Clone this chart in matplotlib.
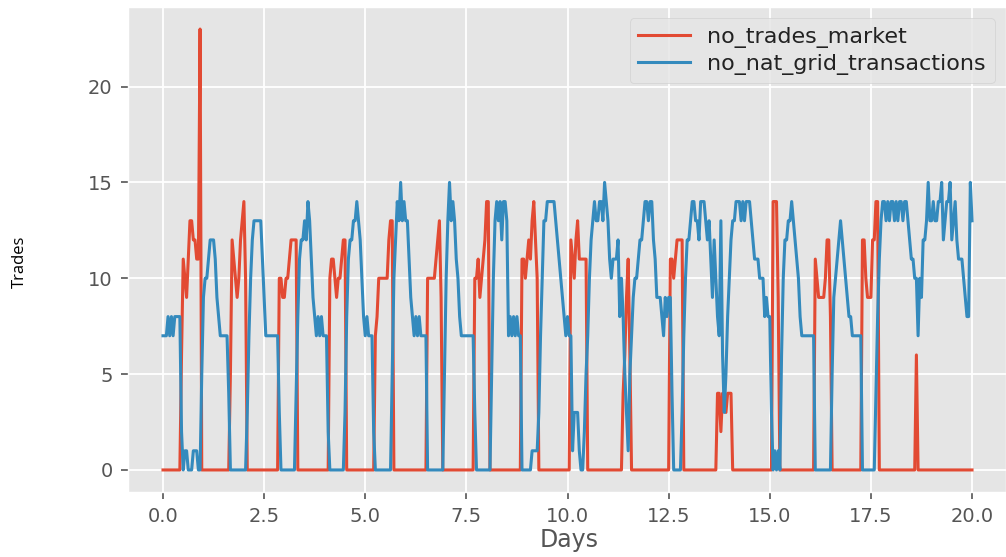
import matplotlib
matplotlib.use('Agg')
import matplotlib.pyplot as plt
import numpy as np

# hourly samples, one row per day (24 values), plus the final point at day 20
no_trades_market = [
    0, 0, 0, 0, 0, 0, 0, 0, 0, 0, 0, 6, 11, 10, 9, 11, 13, 13, 12, 12, 11, 11, 23, 0,
    0, 0, 0, 0, 0, 0, 0, 0, 0, 0, 0, 0, 0, 0, 0, 0, 5, 12, 11, 10, 9, 10, 12, 13,
    14, 10, 0, 0, 0, 0, 0, 0, 0, 0, 0, 0, 0, 0, 0, 0, 0, 0, 0, 0, 0, 10, 10, 9,
    9, 10, 10, 11, 12, 12, 12, 12, 0, 0, 0, 0, 0, 0, 0, 0, 0, 0, 0, 0, 0, 0, 0, 0,
    0, 0, 0, 10, 11, 11, 10, 9, 10, 10, 11, 12, 12, 0, 0, 0, 0, 0, 0, 0, 0, 0, 0, 0,
    0, 0, 0, 0, 0, 0, 7, 8, 10, 10, 10, 10, 10, 10, 12, 13, 13, 0, 0, 0, 0, 0, 0, 0,
    0, 0, 0, 0, 0, 0, 0, 0, 0, 0, 0, 0, 0, 10, 10, 10, 10, 10, 11, 12, 13, 9, 0, 0,
    0, 0, 0, 0, 0, 0, 0, 0, 0, 0, 0, 0, 0, 0, 0, 0, 0, 10, 10, 11, 9, 10, 11, 12,
    14, 14, 0, 0, 0, 0, 0, 0, 0, 0, 0, 0, 0, 0, 0, 0, 0, 0, 0, 0, 0, 11, 11, 10,
    11, 12, 11, 13, 14, 12, 10, 0, 0, 0, 0, 0, 0, 0, 0, 0, 0, 0, 0, 0, 0, 0, 0, 0,
    0, 0, 12, 11, 10, 12, 13, 11, 11, 11, 11, 11, 0, 0, 0, 0, 0, 0, 0, 0, 0, 0, 0, 0,
    0, 0, 0, 0, 0, 0, 0, 0, 0, 4, 6, 9, 11, 6, 0, 0, 0, 0, 0, 0, 0, 0, 0, 0,
    0, 0, 0, 0, 0, 0, 0, 0, 0, 0, 0, 0, 0, 11, 11, 10, 11, 12, 12, 12, 12, 0, 0, 0,
    0, 0, 0, 0, 0, 0, 0, 0, 0, 0, 0, 0, 0, 0, 0, 0, 0, 4, 4, 2, 4, 4, 3, 4,
    4, 4, 0, 0, 0, 0, 0, 0, 0, 0, 0, 0, 0, 0, 0, 0, 0, 0, 0, 0, 0, 0, 0, 0,
    0, 0, 14, 14, 14, 9, 0, 0, 0, 0, 0, 0, 0, 0, 0, 0, 0, 0, 0, 0, 0, 0, 0, 0,
    0, 0, 0, 11, 10, 9, 9, 9, 9, 10, 12, 12, 8, 0, 0, 0, 0, 0, 0, 0, 0, 0, 0, 0,
    0, 0, 0, 0, 0, 0, 0, 12, 12, 10, 9, 9, 9, 12, 12, 14, 14, 0, 0, 0, 0, 0, 0, 0,
    0, 0, 0, 0, 0, 0, 0, 0, 0, 0, 0, 0, 0, 0, 0, 6, 0, 0, 0, 0, 0, 0, 0, 0,
    0, 0, 0, 0, 0, 0, 0, 0, 0, 0, 0, 0, 0, 0, 0, 0, 0, 0, 0, 0, 0, 0, 0, 0,
    0,
]

no_nat_grid_transactions = [
    7, 7, 7, 8, 7, 8, 7, 8, 8, 8, 8, 2, 0, 1, 1, 0, 0, 0, 1, 1, 1, 0, 0, 5,
    9, 10, 10, 11, 12, 12, 12, 11, 9, 8, 7, 7, 7, 7, 7, 4, 0, 0, 0, 0, 0, 0, 0, 0,
    0, 0, 3, 7, 10, 12, 13, 13, 13, 13, 13, 11, 9, 7, 7, 7, 7, 7, 7, 7, 7, 3, 0, 0,
    0, 0, 0, 0, 0, 0, 0, 4, 8, 11, 12, 12, 13, 12, 14, 13, 11, 9, 8, 7, 8, 7, 8, 7,
    7, 7, 2, 0, 0, 0, 0, 0, 0, 0, 0, 0, 3, 8, 11, 12, 12, 13, 13, 14, 13, 12, 10, 8,
    7, 8, 7, 7, 7, 2, 0, 0, 0, 0, 0, 0, 0, 0, 0, 0, 5, 10, 12, 14, 13, 15, 13, 14,
    13, 13, 11, 9, 8, 7, 8, 7, 8, 7, 7, 7, 7, 0, 0, 0, 0, 0, 0, 0, 0, 0, 0, 5,
    10, 13, 15, 13, 14, 13, 11, 10, 8, 7, 7, 7, 7, 7, 7, 7, 7, 3, 0, 0, 0, 0, 0, 0,
    0, 0, 0, 5, 10, 13, 14, 13, 14, 12, 14, 14, 13, 7, 8, 7, 8, 7, 8, 7, 7, 0, 0, 0,
    0, 0, 0, 1, 1, 1, 1, 3, 7, 10, 13, 13, 14, 14, 14, 14, 14, 13, 12, 11, 10, 9, 8, 7,
    8, 7, 7, 1, 3, 3, 3, 1, 0, 0, 2, 5, 7, 10, 12, 13, 14, 13, 13, 14, 14, 13, 15, 14,
    13, 11, 10, 11, 11, 11, 12, 8, 10, 8, 5, 3, 1, 5, 7, 9, 10, 10, 11, 12, 12, 13, 14, 14,
    13, 14, 14, 12, 11, 9, 9, 9, 8, 7, 9, 8, 9, 9, 4, 0, 0, 0, 0, 0, 3, 7, 10, 12,
    12, 13, 14, 14, 13, 13, 12, 14, 14, 14, 13, 12, 13, 11, 9, 12, 10, 8, 7, 13, 6, 3, 5, 8,
    10, 12, 13, 13, 14, 14, 14, 13, 14, 13, 14, 14, 14, 13, 12, 11, 11, 11, 10, 10, 10, 8, 9, 8,
    8, 3, 0, 1, 0, 1, 0, 6, 10, 12, 12, 13, 13, 14, 13, 12, 11, 10, 8, 7, 7, 7, 7, 7,
    7, 7, 7, 0, 0, 0, 0, 0, 0, 0, 0, 0, 0, 5, 9, 10, 11, 12, 13, 12, 11, 10, 9, 8,
    8, 7, 7, 7, 7, 7, 7, 0, 0, 0, 0, 0, 0, 0, 0, 4, 8, 11, 13, 14, 14, 13, 14, 13,
    14, 14, 13, 14, 13, 14, 14, 13, 14, 14, 13, 12, 11, 11, 10, 10, 7, 10, 9, 12, 12, 13, 15, 13,
    13, 14, 13, 13, 14, 14, 15, 12, 13, 14, 14, 15, 12, 13, 14, 12, 11, 11, 11, 10, 9, 8, 8, 15,
    13,
]

y_ticks = [0, 5, 10, 15, 20]
x_ticks = [0.0, 2.5, 5.0, 7.5, 10.0, 12.5, 15.0, 17.5, 20.0]


def main():
    plt.style.use('ggplot')
    fig = plt.figure(figsize=(10.06, 5.57), dpi=100)
    ax = fig.add_axes([128 / 1006, 65 / 557, 878 / 1006, 485 / 557])

    days = np.arange(len(no_trades_market)) / 24

    ax.plot(days, no_trades_market, label='no_trades_market', linewidth=2.2)
    ax.plot(days, no_nat_grid_transactions, label='no_nat_grid_transactions', linewidth=2.2)

    ax.set_xlim(-0.865, 20.84)
    ax.set_ylim(-1.15, 24.15)
    ax.set_xticks(x_ticks)
    ax.set_xticklabels([f'{t:.1f}' for t in x_ticks])
    ax.set_yticks(y_ticks)
    ax.tick_params(axis='both', labelsize=14, colors='#555555', length=5, width=1.2, pad=6)
    ax.grid(True, color='white', linewidth=1.3)

    ax.set_xlabel('Days', fontsize=17, color='#555555')
    ax.xaxis.set_label_coords((569 - 128) / 878, -0.075)

    leg = ax.legend(loc='upper right', fontsize=16, handlelength=2.3,
                    borderaxespad=0.5, labelspacing=0.25)
    for txt in leg.get_texts():
        txt.set_color('#222222')

    fig.text(20 / 1006, 1 - 262 / 557, 'Trades', rotation=90, ha='center', va='center',
             fontsize=12, color='black', family='Open Sans')

    fig.savefig('out.png', dpi=100)


if __name__ == '__main__':
    main()
